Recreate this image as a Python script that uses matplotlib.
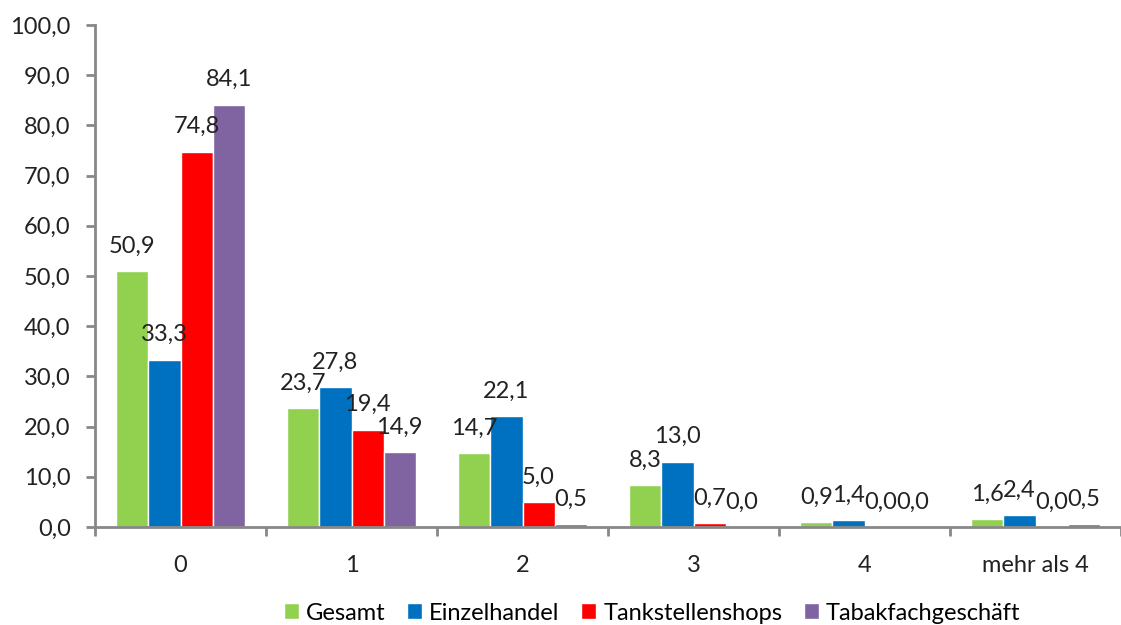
import numpy as np
import matplotlib.pyplot as plt

plt.rcParams['font.family'] = ['Lato', 'DejaVu Sans']

# Data
categories = ["0", "1", "2", "3", "4", "mehr als 4"]
series_names = ["Gesamt", "Einzelhandel", "Tankstellenshops", "Tabakfachgeschäft"]
gesamt = [50.9, 23.7, 14.7, 8.3, 0.9, 1.6]
einzelhandel = [33.3, 27.8, 22.1, 13.0, 1.4, 2.4]
tankstellen = [74.8, 19.4, 5.0, 0.7, 0.0, 0.0]
tabak = [84.1, 14.9, 0.5, 0.0, 0.0, 0.5]
yticks = [0, 10, 20, 30, 40, 50, 60, 70, 80, 90, 100]

colors = ["#92D050", "#0070C0", "#FF0000", "#8064A2"]
FS = 17


def fmt(v):
    return f"{v:.1f}".replace(".", ",")


def main():
    fig = plt.figure(figsize=(11.21, 6.25), dpi=100)
    ax = fig.add_axes([95 / 1121, 1 - 527 / 625, 1 - 95 / 1121, (527 - 25) / 625])

    x = np.arange(len(categories))
    width = 0.1875
    all_series = [gesamt, einzelhandel, tankstellen, tabak]
    for i, (vals, name, col) in enumerate(zip(all_series, series_names, colors)):
        pos = x + (i - 1.5) * width
        ax.bar(pos, vals, width, color=col, edgecolor="white", linewidth=1.0, label=name)
        for px, v in zip(pos, vals):
            ax.annotate(fmt(v), (px, v), xytext=(0, 18), textcoords="offset points",
                        ha="center", va="center", fontsize=FS, color="#222222")

    ax.set_xlim(-0.5, len(categories) - 0.5)
    ax.set_ylim(0, 100)
    ax.set_yticks(yticks)
    ax.set_yticklabels([fmt(t) for t in yticks], fontsize=FS, color="#222222")
    ax.set_xticks(x)
    ax.set_xticklabels(categories, fontsize=FS, color="#222222")
    ax.set_xticks(np.arange(len(categories) + 1) - 0.5, minor=True)

    for s in ["top", "right"]:
        ax.spines[s].set_visible(False)
    for s in ["left", "bottom"]:
        ax.spines[s].set_color("#888888")
        ax.spines[s].set_linewidth(2)
    ax.tick_params(axis="y", length=6.5, width=2, color="#888888", pad=11)
    ax.tick_params(axis="x", which="major", length=0, pad=20)
    ax.tick_params(axis="x", which="minor", length=6.5, width=2, color="#888888")

    fig.legend(loc="center", bbox_to_anchor=(652 / 1121, 1 - 613 / 625), ncol=4,
               frameon=False, fontsize=FS, handlelength=0.65, handleheight=0.65,
               handletextpad=0.3, columnspacing=0.9)

    fig.savefig("out.png", dpi=100)


if __name__ == "__main__":
    main()
